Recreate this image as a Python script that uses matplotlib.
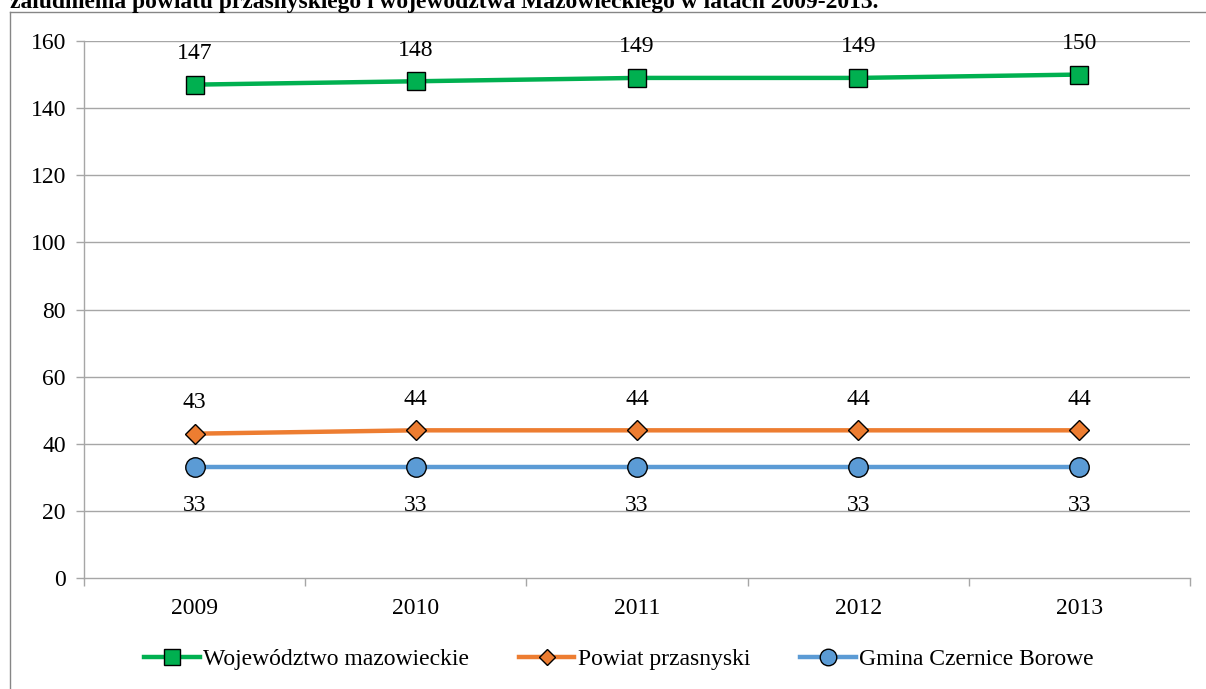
import matplotlib
matplotlib.use("Agg")
import matplotlib.pyplot as plt
from matplotlib.lines import Line2D

years = ["2009", "2010", "2011", "2012", "2013"]
woj = [147, 148, 149, 149, 150]
powiat = [43, 44, 44, 44, 44]
gmina = [33, 33, 33, 33, 33]
series_names = ["Województwo mazowieckie", "Powiat przasnyski", "Gmina Czernice Borowe"]
title = "zaludnienia powiatu przasnyskiego i województwa Mazowieckiego w latach 2009-2013."
yticks = [0, 20, 40, 60, 80, 100, 120, 140, 160]

plt.rcParams['font.family'] = ['Liberation Serif', 'DejaVu Serif']
W, H = 1206, 689
FS = 17
fig = plt.figure(figsize=(W / 100, H / 100), dpi=100)

# outer frame (top and left lines)
fig.add_artist(Line2D([10 / W, 10 / W], [0, 1 - 12 / H], transform=fig.transFigure,
                      color='#868686', lw=1.0))
fig.add_artist(Line2D([10 / W, 1], [1 - 12 / H, 1 - 12 / H], transform=fig.transFigure,
                      color='#868686', lw=1.0))
fig.text(10 / W, 1 - 8 / H, title, fontsize=16.9, fontweight='bold', ha='left', va='baseline',
         color='black')

left, right, top, bottom = 84, 1190, 41, 578
ax = fig.add_axes([left / W, 1 - bottom / H, (right - left) / W, (bottom - top) / H])

x = list(range(len(years)))
grid_c = '#A6A6A6'
ax.set_ylim(0, 160)
ax.set_xlim(-0.5, len(years) - 0.5)
ax.set_yticks(yticks)
ax.set_yticklabels([str(v) for v in yticks])
for v in yticks[1:]:
    ax.axhline(v, color=grid_c, lw=1.0, zorder=0)
ax.set_xticks(x)
ax.set_xticklabels(years)
ax.set_xticks([i - 0.5 for i in range(len(years) + 1)], minor=True)
ax.tick_params(axis='x', which='major', length=0, pad=14.5, labelsize=FS)
ax.tick_params(axis='x', which='minor', length=6, color=grid_c, width=1.0)
ax.tick_params(axis='y', which='major', length=6, color=grid_c, width=1.0, pad=7, labelsize=FS)
for s in ['top', 'right']:
    ax.spines[s].set_visible(False)
for s in ['left', 'bottom']:
    ax.spines[s].set_color(grid_c)
    ax.spines[s].set_linewidth(1.0)

specs = [
    (woj, '#00B050', 's', 13, 22.5),
    (powiat, '#ED7D31', 'D', 10, 22.5),
    (gmina, '#5B9BD5', 'o', 14, -27.5),
]
handles = []
for (vals, c, m, ms, off), name in zip(specs, series_names):
    h, = ax.plot(x, vals, color=c, lw=3.2, marker=m, markersize=ms, markerfacecolor=c,
                 markeredgecolor='black', markeredgewidth=1.0, label=name, zorder=3,
                 clip_on=False)
    handles.append(h)
    for xi, v in zip(x, vals):
        ax.annotate(str(v), (xi, v), xytext=(0, off), textcoords='offset points',
                    ha='center', va='center', fontsize=FS, color='black')

fig.legend(handles=handles, loc='center', bbox_to_anchor=(619 / W, 1 - 659 / H),
           ncol=3, frameon=False, fontsize=FS, handlelength=2.35, handletextpad=0.15,
           columnspacing=2.1, markerscale=0.85)

fig.savefig('out.png', dpi=100)
